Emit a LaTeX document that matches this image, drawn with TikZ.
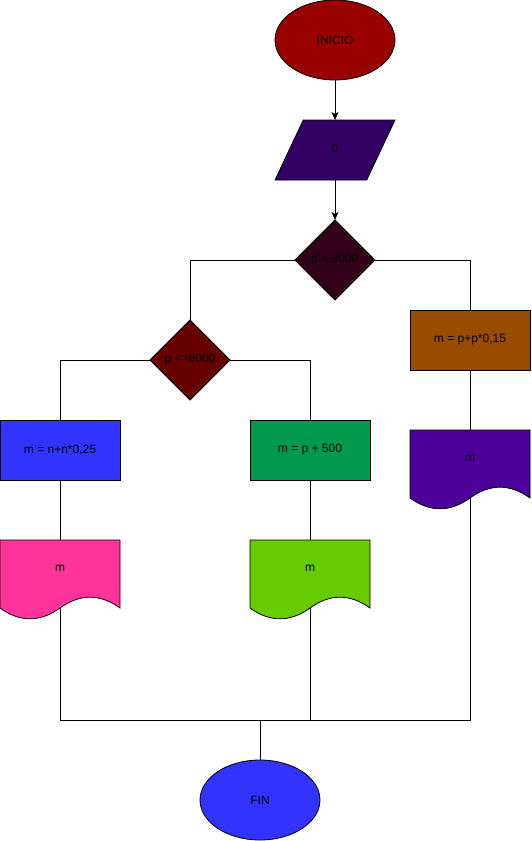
\documentclass[tikz,border=0pt]{standalone}
\usepackage{xcolor}
\usepackage{fontspec}
\setmainfont{Liberation Sans}
\usepackage{tikz}
\usetikzlibrary{shapes.geometric, arrows.meta, positioning, calc, backgrounds}
\definecolor{inired}{HTML}{990000}
\definecolor{inpurple}{HTML}{330066}
\definecolor{condone}{HTML}{33001A}
\definecolor{condtwo}{HTML}{660000}
\definecolor{procblue}{HTML}{3333FF}
\definecolor{procgreen}{HTML}{00994D}
\definecolor{procbrown}{HTML}{994C00}
\definecolor{docpink}{HTML}{FF3399}
\definecolor{doclime}{HTML}{66CC00}
\definecolor{docviolet}{HTML}{4C0099}

% wavy output sheet behind a named node
\newcommand{\docshape}[2]{%
  \begin{scope}[on background layer, shift={(#1.south west)}]
    \draw[line width=0.8pt, fill=#2] (0,80) -- (120,80) -- (120,12)
      .. controls (100,26.4) and (80,26.4) .. (60,12)
      .. controls (40,-2.4) and (20,-2.4) .. (0,12) -- cycle;
  \end{scope}}

\begin{document}
\begin{tikzpicture}[
  x=1pt, y=1pt,
  font=\fontsize{12}{14}\selectfont,
  base/.style={draw, line width=0.8pt, inner sep=0pt, outer sep=0pt, align=center},
  term/.style={base, ellipse, minimum width=120pt, minimum height=80pt},
  inbox/.style={base, trapezium, trapezium left angle=71.6, trapezium right angle=108.4, trapezium stretches=true, minimum width=120pt, minimum height=60pt},
  cond/.style={base, diamond, minimum width=80pt, minimum height=80pt},
  proc/.style={base, rectangle, minimum width=120pt, minimum height=60pt},
  sheet/.style={rectangle, inner sep=0pt, outer sep=0pt, minimum width=120pt, minimum height=80pt, text height=8pt, text depth=26pt},
  lnk/.style={line width=0.8pt},
  arr/.style={-{Stealth[length=8pt, width=7pt, inset=2pt]}, line width=0.8pt}
]
  \useasboundingbox (0,0) rectangle (531,-841);
  \node[term, fill=inired] (ini) at (335,-40) {INICIO};
  \node[inbox, fill=inpurple] (inp) at (335,-150) {p};
  \node[cond, fill=condone] (c1) at (335,-260) {p < 3000};
  \node[cond, fill=condtwo] (c2) at (190,-360) {p <=6000};
  \draw[arr] (ini)--(inp); \draw[arr] (inp)--(c1);
  % branches
  \node[proc, fill=procblue] (pa) at (60,-450) {m = n+n*0,25};
  \node[proc, fill=procgreen] (pb) at (310,-450) {m = p + 500};
  \node[proc, fill=procbrown] (pc) at (470,-340) {m = p+p*0,15};
  \draw[lnk] (c1.west) -| (c2.north); \draw[lnk] (c1.east) -| (pc.north);
  \draw[lnk] (c2.west) -| (pa.north); \draw[lnk] (c2.east) -| (pb.north);
  % outputs
  \node[sheet] (oa) at (60,-580) {m};
  \node[sheet] (ob) at (310,-580) {m};
  \node[sheet] (oc) at (470,-470) {m};
  \docshape{oa}{docpink} \docshape{ob}{doclime} \docshape{oc}{docviolet}
  \draw[lnk] (pa)--(oa); \draw[lnk] (pb)--(ob); \draw[lnk] (pc)--(oc);
  % join
  \coordinate (jn) at (260,-720);
  \node[term, fill=procblue] (fin) at (260,-800) {FIN};
  \draw[lnk] ([yshift=12pt]oa.south) |- (jn);
  \draw[lnk] ([yshift=12pt]oc.south) |- (jn);
  \draw[lnk] ([yshift=12pt]ob.south) -- (ob.south |- jn);
  \draw[lnk] (jn)--(fin);
\end{tikzpicture}
\end{document}
